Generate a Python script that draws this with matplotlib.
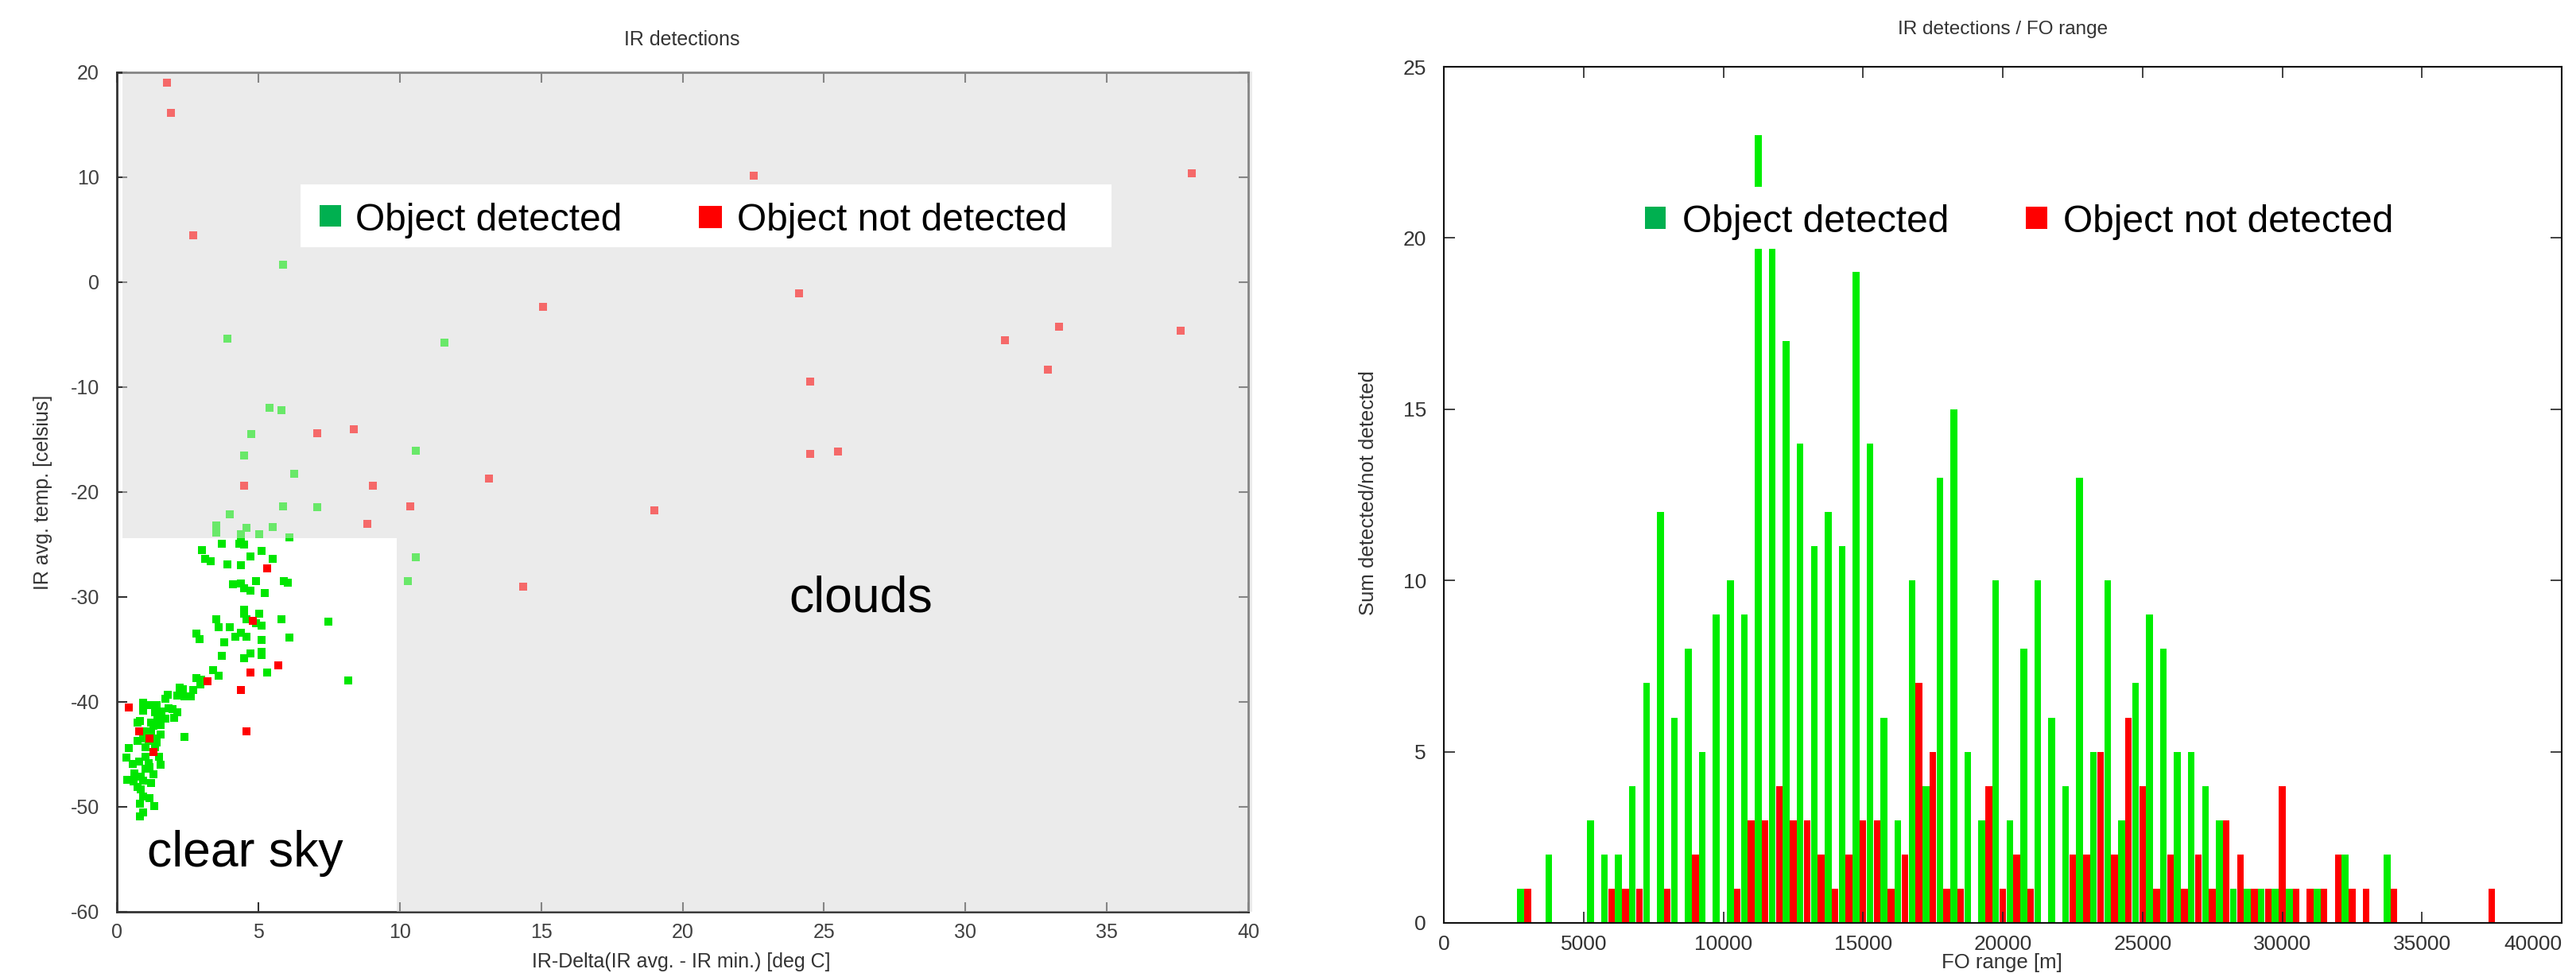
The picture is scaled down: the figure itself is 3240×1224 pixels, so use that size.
import numpy as np
import matplotlib
matplotlib.use('Agg')
import matplotlib.pyplot as plt
from matplotlib.patches import Rectangle, Polygon

plt.rcParams['font.family'] = ['Liberation Sans', 'DejaVu Sans']
plt.rcParams['axes.unicode_minus'] = False

# ---- left chart: IR scatter ----
det_x = [5.88, 3.90, 11.57, 5.41, 5.81, 4.76, 4.49, 10.58, 6.28, 5.88, 7.08, 4.0, 3.52, 3.52,
         4.59, 5.51, 4.38, 5.03, 6.10, 10.57, 10.30,
         3.72, 4.32, 4.39, 4.51, 3.0, 5.11, 3.12, 3.32, 4.71, 5.51, 3.91, 4.39, 4.11, 4.39,
         4.51, 4.71, 4.91, 5.23, 5.90, 6.03, 4.51, 4.51, 5.03, 3.52, 4.58, 4.91, 5.11, 5.82,
         3.60, 4.0, 2.80, 2.92, 4.39, 4.19, 4.59, 3.79, 5.11, 6.10, 3.72, 4.51, 4.71, 5.11,
         5.11, 7.47, 8.19,
         5.31, 3.40, 3.60, 2.80, 2.94, 2.99, 2.71, 2.21, 2.33, 2.14, 2.38, 2.61, 1.80, 1.72,
         0.93, 0.93, 1.21, 1.40, 1.35, 1.58, 1.82, 1.96, 2.14, 2.01, 1.44, 1.72, 1.49, 0.81,
         0.74, 1.21, 1.30, 1.54, 1.02, 1.21, 1.54, 1.30, 1.40, 1.12, 0.74, 0.93, 2.40, 0.41,
         1.02, 1.35, 0.34, 1.02, 1.49, 0.55, 0.79, 1.12, 1.54, 1.02, 1.16, 0.63, 0.83, 1.30,
         0.37, 0.60, 0.93, 1.21, 0.74, 0.83, 0.93, 1.16, 0.81, 1.33, 0.93, 0.81]
det_y = [1.63, -5.41, -5.74, -11.97, -12.18, -14.49, -16.55, -16.04, -18.23, -21.35, -21.44,
         -22.1, -23.2, -23.9, -23.4, -23.3, -24.05, -24.0, -24.3, -26.2, -28.5,
         -24.9, -24.9, -24.7, -25.0, -25.5, -25.6, -26.4, -26.6, -26.1, -26.4, -26.9, -27.0,
         -28.8, -28.7, -29.2, -29.4, -28.5, -29.6, -28.5, -28.6, -31.2, -31.6, -31.6, -32.1,
         -32.1, -32.5, -32.7, -32.1, -32.9, -32.9, -33.5, -34.0, -33.4, -33.8, -33.8, -34.3,
         -34.1, -33.9, -35.6, -35.8, -35.4, -35.2, -35.5, -32.36, -37.96,
         -37.2, -37.0, -37.5, -37.7, -38.3, -37.9, -38.9, -38.6, -38.8, -39.4, -39.5, -39.5,
         -39.3, -39.7, -40.1, -40.8, -40.3, -40.3, -41.0, -40.9, -40.6, -40.7, -41.0, -41.5,
         -41.3, -41.6, -41.9, -41.8, -42.0, -42.0, -42.3, -42.2, -42.8, -43.0, -43.1, -43.5,
         -43.9, -43.7, -43.7, -43.5, -43.3, -44.4, -44.3, -44.3, -45.3, -45.2, -45.2, -45.9,
         -45.7, -45.8, -46.0, -46.4, -46.2, -46.8, -47.1, -46.9, -47.4, -47.6, -47.5, -47.7,
         -48.1, -48.3, -49.0, -49.2, -49.7, -49.9, -50.5, -50.9]

nodet_x = [1.78, 1.91, 2.70, 15.08, 7.08, 8.39, 13.16, 4.49, 9.06, 10.38, 8.86, 14.35, 22.51,
           24.12, 24.5, 24.5, 25.5, 19.01, 31.40, 33.31, 32.91, 37.62, 38.01, 5.31, 4.81,
           5.70, 4.71, 3.21, 4.39, 0.41, 0.78, 1.16, 1.30, 4.59]
nodet_y = [19.04, 16.1, 4.45, -2.38, -14.4, -13.98, -18.74, -19.4, -19.4, -21.35, -23.04,
           -29.0, 10.18, -1.07, -9.47, -16.39, -16.15, -21.72, -5.56, -4.26, -8.34, -4.62,
           10.41, -27.3, -32.3, -36.5, -37.2, -38.0, -38.9, -40.5, -42.8, -43.5, -44.8, -42.8]

# ---- right chart: histogram over FO range, 500 m bins ----
fo_bins = np.arange(2500, 37500 + 1, 500)
fo_detected = [1, 0, 2, 0, 0, 3, 2, 2, 4, 7, 12, 6, 8, 5, 9, 10, 9, 23, 20, 17, 14, 11, 12, 11,
               19, 14, 6, 3, 10, 4, 13, 15, 5, 3, 10, 3, 8, 10, 6, 4, 13, 5, 10, 3, 7, 9, 8, 5,
               5, 4, 3, 1, 1, 1, 1, 1, 0, 1, 0, 2, 0, 0, 2, 0, 0, 0, 0, 0, 0, 0, 0]
fo_not_detected = [1, 0, 0, 0, 0, 0, 1, 1, 1, 0, 1, 0, 2, 0, 0, 1, 3, 3, 4, 3, 3, 2, 1, 2,
                   3, 3, 1, 2, 7, 5, 1, 1, 0, 4, 1, 2, 1, 0, 0, 2, 2, 5, 2, 6, 4, 1, 2, 1,
                   2, 1, 3, 2, 1, 1, 4, 1, 1, 1, 2, 1, 1, 0, 1, 0, 0, 0, 0, 0, 0, 1, 0]

W, H = 3240, 1224
fig = plt.figure(figsize=(W / 100, H / 100), dpi=100)


def fx(x):
    return x / W


def fy(y):
    return 1 - y / H


GREEN = '#00e600'
RED = '#ff0000'
GRAY = '#ebebeb'

ax1 = fig.add_axes([fx(147), fy(1147), fx(1570) - fx(147), fy(91) - fy(1147)])
ax1.set_xlim(0, 40)
ax1.set_ylim(-60, 20)
cloud = [(0.2, 20.1), (40.15, 20.1), (40.15, -60), (9.9, -60), (9.9, -24.4), (0.2, -24.4)]
ax1.add_patch(Polygon(cloud, closed=True, facecolor=GRAY, edgecolor='none', zorder=1, clip_on=False))
ax1.scatter(det_x, det_y, marker='s', s=44, c=GREEN, linewidths=0, zorder=2)
ax1.scatter(nodet_x, nodet_y, marker='s', s=44, c=RED, linewidths=0, zorder=2)
# clouds zone washes out the points lying in it
ax1.add_patch(Polygon(cloud, closed=True, facecolor=GRAY, edgecolor='none', alpha=0.45, zorder=3, clip_on=False))
ax1.set_xticks(range(0, 41, 5))
ax1.set_yticks(range(-60, 21, 10))
ax1.tick_params(direction='in', top=True, right=True, length=9, width=1.5, color='#333333',
                labelsize=18, labelcolor='#404040')
ax1.tick_params(axis='y', pad=16)
ax1.tick_params(axis='x', pad=10)
for s in ax1.spines.values():
    s.set_color('#333333')
    s.set_linewidth(2)

ax2 = fig.add_axes([fx(1816), fy(1161), fx(3222) - fx(1816), fy(84) - fy(1161)])
ax2.bar(fo_bins + 250, fo_detected, width=240, color='#00ee00', linewidth=0)
ax2.bar(fo_bins + 500, fo_not_detected, width=240, color=RED, linewidth=0)
ax2.set_xlim(0, 40000)
ax2.set_ylim(0, 25)
ax2.set_xticks(range(0, 40001, 5000))
ax2.set_yticks(range(0, 26, 5))
ax2.tick_params(direction='in', top=True, right=True, length=10, width=1.2, color='#222222',
                labelsize=19, labelcolor='#333333')
ax2.tick_params(axis='y', pad=16)
ax2.tick_params(axis='x', pad=11)
for s in ax2.spines.values():
    s.set_color('#111111')
    s.set_linewidth(1.5)
# last label sits at the picture edge, keep it inside
ax2.get_xticklabels()[-1].set_horizontalalignment('right')

# titles and axis labels
fig.text(fx(858), fy(50), 'IR detections', fontsize=18, ha='center', va='center', color='#333333')
fig.text(fx(857), fy(1210), 'IR-Delta(IR avg. - IR min.) [deg C]', fontsize=18, ha='center',
         va='center', color='#333333')
fig.text(fx(54), fy(619), 'IR avg. temp. [celsius]', fontsize=18, rotation=90, ha='center',
         va='center', color='#333333')
fig.text(fx(2519), fy(37), 'IR detections / FO range', fontsize=17.5, ha='center', va='center',
         color='#333333')
fig.text(fx(1721), fy(620), 'Sum detected/not detected', fontsize=18.5, rotation=90, ha='center',
         va='center', color='#333333')
fig.text(fx(2518), fy(1211), 'FO range [m]', fontsize=18.5, ha='center', va='center', color='#333333')

# zone labels
fig.text(fx(992), fy(769), 'clouds', fontsize=45, va='baseline', zorder=11)
fig.text(fx(185), fy(1090), 'clear sky', fontsize=45, va='baseline', zorder=11)

# pasted legends
def legend_box(box, items):
    x0, y0, x1, y1 = box
    fig.add_artist(Rectangle((fx(x0), fy(y1)), fx(x1) - fx(x0), fy(y0) - fy(y1),
                             transform=fig.transFigure, facecolor='white', edgecolor='none', zorder=10))
    for (sx0, sy0, sx1, sy1, col, tx, label) in items:
        fig.add_artist(Rectangle((fx(sx0), fy(sy1)), fx(sx1) - fx(sx0), fy(sy0) - fy(sy1),
                                 transform=fig.transFigure, facecolor=col, edgecolor='none', zorder=11))
        fig.text(fx(tx), fy(290.5 if x0 < 1600 else 292), label, fontsize=34.5, va='baseline', zorder=12)


legend_box((378, 232, 1398, 311),
           [(401.5, 258, 429, 285, '#00b050', 447, 'Object detected'),
            (879.5, 259, 908, 286.5, RED, 926.6, 'Object not detected')])
legend_box((2045, 235, 3030, 313),
           [(2068.7, 260, 2095.4, 288, '#00b050', 2115.7, 'Object detected'),
            (2548, 260, 2575, 288, RED, 2595, 'Object not detected')])

fig.savefig('out.png', dpi=100)
